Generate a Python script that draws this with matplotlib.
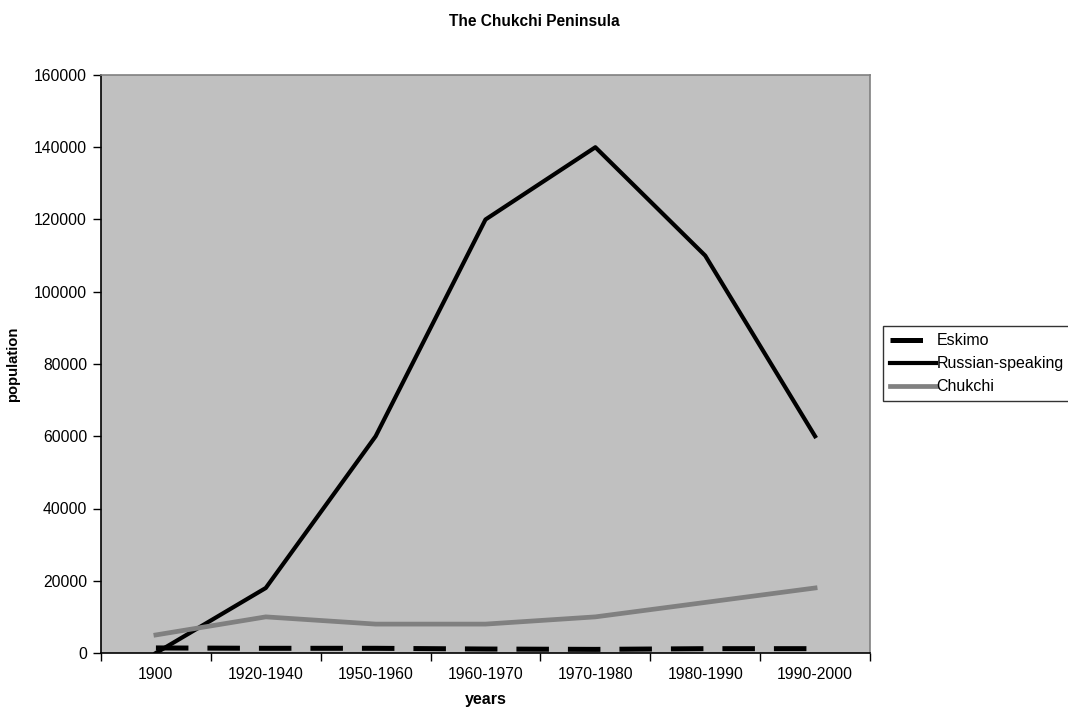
import matplotlib
matplotlib.use('Agg')
import matplotlib.pyplot as plt
from matplotlib.ticker import MultipleLocator, FixedLocator

plt.rcParams['font.family'] = ['Liberation Sans', 'DejaVu Sans']

periods = ['1900', '1920-1940', '1950-1960', '1960-1970', '1970-1980', '1980-1990', '1990-2000']
eskimo = [1400, 1300, 1300, 1100, 1000, 1200, 1200]
russian = [0, 18000, 60000, 120000, 140000, 110000, 60000]
chukchi = [5000, 10000, 8000, 8000, 10000, 14000, 18000]

x = list(range(len(periods)))

fig = plt.figure(figsize=(10.68, 7.15), dpi=100)
ax = fig.add_axes([101 / 1068, 1 - 653 / 715, 769 / 1068, 578 / 715])
ax.set_facecolor('#c0c0c0')

ax.plot(x, eskimo, color='black', lw=3.6, dashes=(6.5, 3.8), solid_capstyle='butt', label='Eskimo')
ax.plot(x, russian, color='black', lw=3.0, label='Russian-speaking')
ax.plot(x, chukchi, color='#808080', lw=3.4, label='Chukchi')

ax.set_xlim(-0.5, len(periods) - 0.5)
ax.set_ylim(0, 160000)
ax.yaxis.set_major_locator(MultipleLocator(20000))

# category labels centred, tick marks on the boundaries
ax.xaxis.set_major_locator(FixedLocator([i - 0.5 for i in range(len(periods) + 1)]))
ax.xaxis.set_minor_locator(FixedLocator(x))
ax.set_xticklabels([''] * (len(periods) + 1))
ax.set_xticklabels(periods, minor=True)
ax.tick_params(axis='x', which='major', length=6, width=1, direction='out')
ax.tick_params(axis='x', which='minor', length=0, pad=10, labelsize=11.3)
ax.tick_params(axis='y', length=6, width=1, direction='out', labelsize=11.3, pad=4)

for side in ['top', 'right']:
    ax.spines[side].set_color('#808080')
    ax.spines[side].set_linewidth(1.2)
for side in ['left', 'bottom']:
    ax.spines[side].set_color('black')
    ax.spines[side].set_linewidth(1.2)

ax.set_xlabel('years', fontsize=11.5, fontweight='bold', labelpad=7)
ax.set_ylabel('population', fontsize=10.7, fontweight='bold', labelpad=10)
fig.suptitle('The Chukchi Peninsula', fontsize=11.2, fontweight='bold', y=1 - 21 / 715, va='center')

leg = ax.legend(loc='upper left', bbox_to_anchor=(883 / 1068, 1 - 326 / 715), bbox_transform=fig.transFigure,
                frameon=True, fancybox=False, edgecolor='black', fontsize=11.5, handlelength=2.85,
                handletextpad=0.05, borderpad=0.45, labelspacing=0.5, borderaxespad=0)
leg.get_frame().set_linewidth(1.0)

fig.savefig('out.png', dpi=100)
